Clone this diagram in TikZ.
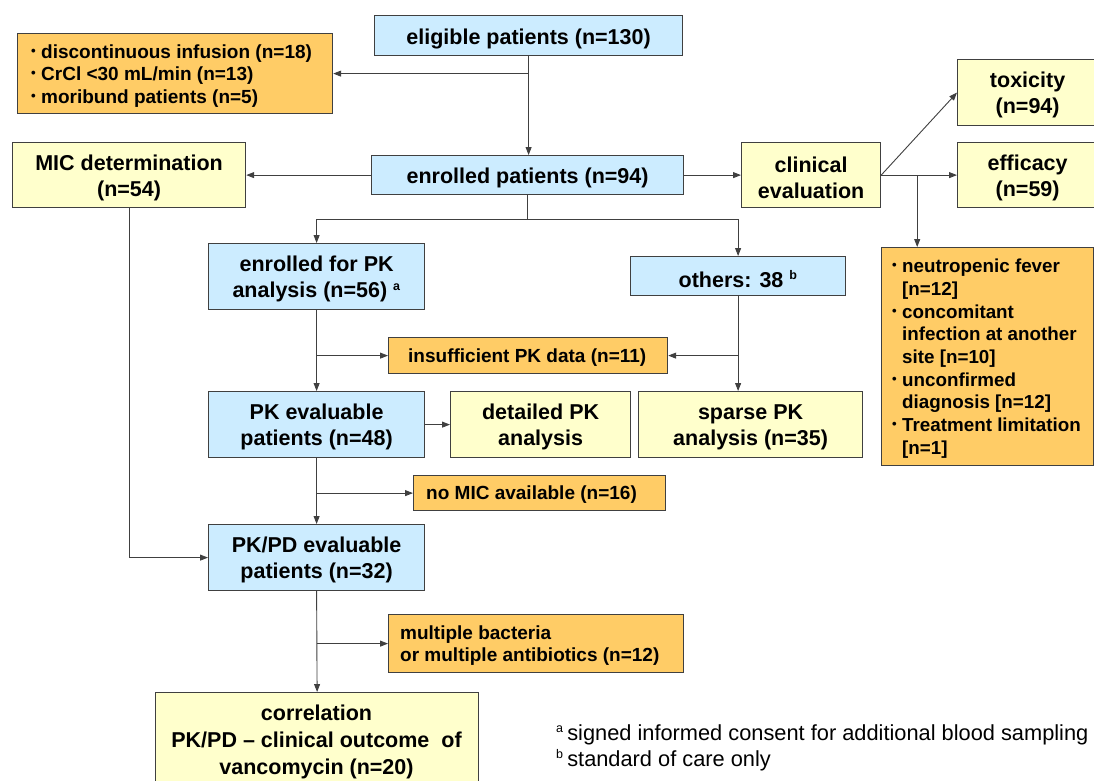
\documentclass[tikz,border=0pt]{standalone}
\usepackage{fontspec}
\setmainfont{Liberation Sans}
\usetikzlibrary{arrows.meta,calc}
\definecolor{bluefill}{RGB}{204,236,255}
\definecolor{yelfill}{RGB}{255,255,204}
\definecolor{orfill}{RGB}{255,204,102}
\definecolor{edge}{RGB}{64,64,64}
\newcommand{\bul}{\makebox[10pt][l]{\raisebox{0.15em}{\scalebox{0.7}{•}}}}
\newcommand{\nobul}{\makebox[10pt][l]{}}
\newcommand{\sfn}[1]{\textsuperscript{\fontsize{12.5}{12.5}\selectfont #1}}
\begin{document}
\begin{tikzpicture}[x=1pt,y=-1pt,
  box/.style={draw=edge,line width=1.2pt,anchor=north west,inner sep=0pt},
  bbox/.style={box,fill=bluefill},
  ybox/.style={box,fill=yelfill},
  obox/.style={box,fill=orfill},
  txt/.style={inner sep=0pt,align=center,yshift=-2.5pt,
    font=\fontsize{21.5}{26}\selectfont\bfseries},
  txtone/.style={txt,yshift=-0.5pt},
  otxt/.style={inner sep=0pt,align=left,anchor=west,yshift=-2pt,
    font=\fontsize{19}{22.7}\selectfont\bfseries},
  arr/.style={draw=edge,line width=0.9pt,-{Triangle[length=8pt,width=6pt]}},
  ln/.style={draw=edge,line width=0.9pt}]
\useasboundingbox (0,0) rectangle (1094,780);
\fill[white] (0,0) rectangle (1094,780);
% boxes
\node[bbox,minimum width=308pt,minimum height=40pt] (elig) at (374,15) {};
\node[txtone] (elig-t) at (elig.center) {eligible patients (n=130)};
\node[obox,minimum width=315pt,minimum height=80pt] (excl) at (17,33) {};
\node[otxt,font=\fontsize{19}{22.5}\selectfont\bfseries] (excl-t) at ([xshift=14pt]excl.west)
  {\bul discontinuous infusion (n=18)\\\bul CrCl <30 mL/min (n=13)\\\bul moribund patients (n=5)};
\node[ybox,minimum width=233pt,minimum height=65pt] (mic) at (12,142) {};
\node[txt] (mic-t) at (mic.center) {MIC determination\\(n=54)};
\node[bbox,minimum width=312pt,minimum height=39pt] (enr) at (371,155) {};
\node[txtone] (enr-t) at (enr.center) {enrolled patients (n=94)};
\node[ybox,minimum width=139pt,minimum height=65pt] (clin) at (741,142) {};
\node[txt] (clin-t) at (clin.center) {clinical\\evaluation};
\node[ybox,minimum width=140pt,minimum height=66pt] (tox) at (957,59) {};
\node[txt] (tox-t) at (tox.center) {toxicity\\(n=94)};
\node[ybox,minimum width=140pt,minimum height=65pt] (eff) at (957,142) {};
\node[txt] (eff-t) at (eff.center) {efficacy\\(n=59)};
\node[obox,minimum width=212pt,minimum height=218pt] (ro) at (881,247) {};
\node[otxt,font=\fontsize{18.8}{22.7}\selectfont\bfseries] (ro-t) at ([xshift=11pt]ro.west)
  {\bul neutropenic fever\\\nobul [n=12]\\
   \bul concomitant\\\nobul infection at another\\\nobul site [n=10]\\
   \bul unconfirmed\\\nobul diagnosis [n=12]\\
   \bul Treatment limitation\\\nobul [n=1]};
\node[bbox,minimum width=216pt,minimum height=66pt] (epk) at (208,243) {};
\node[txt] (epk-t) at (epk.center) {enrolled for PK\\analysis (n=56) \sfn{a}};
\node[bbox,minimum width=215pt,minimum height=39pt] (oth) at (630,256) {};
\node[txtone] (oth-t) at (oth.center) {others: 38 \sfn{b}};
\node[obox,minimum width=279pt,minimum height=36pt] (insuf) at (388,337) {};
\node[otxt,yshift=0.5pt] (insuf-t) at ([xshift=20pt]insuf.west) {insufficient PK data (n=11)};
\node[bbox,minimum width=216pt,minimum height=66pt] (pke) at (208,391) {};
\node[txt] (pke-t) at (pke.center) {PK evaluable\\patients (n=48)};
\node[ybox,minimum width=180pt,minimum height=66pt] (det) at (450,391) {};
\node[txt] (det-t) at (det.center) {detailed PK\\analysis};
\node[ybox,minimum width=224pt,minimum height=66pt] (spa) at (638,391) {};
\node[txt] (spa-t) at (spa.center) {sparse PK\\analysis (n=35)};
\node[obox,minimum width=252pt,minimum height=35pt] (nomic) at (413,475) {};
\node[otxt,yshift=0.5pt] (nomic-t) at ([xshift=13pt]nomic.west) {no MIC available (n=16)};
\node[bbox,minimum width=216pt,minimum height=66pt] (pkpd) at (208,524) {};
\node[txt] (pkpd-t) at (pkpd.center) {PK/PD evaluable\\patients (n=32)};
\node[obox,minimum width=295pt,minimum height=58pt] (mult) at (388,614) {};
\node[otxt] (mult-t) at ([xshift=12pt]mult.west) {multiple bacteria\\or multiple antibiotics (n=12)};
\node[ybox,minimum width=323pt,minimum height=100pt] (corr) at (155,692) {};
\node[txt,anchor=north,yshift=0pt,font=\fontsize{21.5}{27}\selectfont\bfseries] (corr-t) at (316.5,702)
  {correlation\\PK/PD -- clinical outcome\ \ of\\vancomycin (n=20)};
\node[anchor=north west,inner sep=0pt,align=left,font=\fontsize{21.8}{26}\selectfont] (fn) at (556,724)
  {\sfn{a}\,signed informed consent for additional blood sampling\\
   \sfn{b}\,standard of care only};
% connectors
\draw[arr] (elig.south) -- (elig.south |- enr.north);
\draw[arr] (elig.south |- excl.east) -- (excl.east);
\draw[arr] (enr.west) -- (mic.east);
\draw[arr] (enr.east) -- (clin.west);
\draw[ln] (enr.south) -- ++(0,24) coordinate (s1);
\draw[arr] (s1) -| (epk.north);
\draw[arr] (s1) -| (oth.north);
\draw[arr] (clin.east) -- (eff.west);
\draw[arr] (clin.east) -- (tox.west);
\draw[arr] ([xshift=36pt]clin.east) -- ([xshift=36pt]clin.east |- ro.north);
\draw[arr] (epk.south) -- (pke.north);
\draw[arr] (epk.south |- insuf.west) -- (insuf.west);
\draw[arr] (oth.south) -- (oth.south |- spa.north);
\draw[arr] (oth.south |- insuf.east) -- (insuf.east);
\draw[arr] (pke.east) -- (det.west);
\draw[arr] (pke.south) -- (pkpd.north);
\draw[arr] (pke.south |- nomic.west) -- (nomic.west);
\draw[arr] (mic.south) |- (pkpd.west);
\draw[arr] (pkpd.south) -- (corr.north);
\draw[arr] (pkpd.south |- mult.west) -- (mult.west);
\end{tikzpicture}
\end{document}
